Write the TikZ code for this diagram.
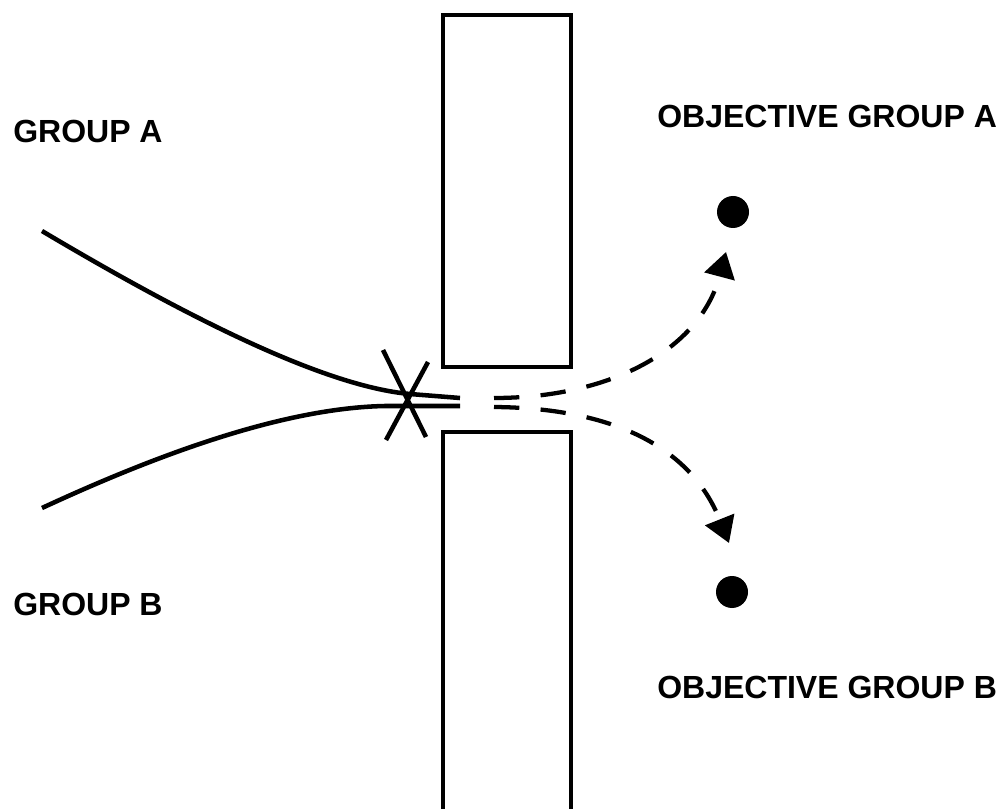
\documentclass[tikz,border=0pt]{standalone}
\usepackage{fontspec}
\setmainfont{Liberation Sans}
\usetikzlibrary{arrows.meta}
\begin{document}
\begin{tikzpicture}[x=0.75pt,y=-0.75pt,
  lbl/.style={anchor=base west,inner sep=0pt,font=\fontsize{24pt}{28pt}\selectfont\bfseries},
  wall/.style={line width=3.6pt,line join=miter},
  route/.style={line width=3.4pt},
  branch/.style={line width=3.2pt,dash pattern=on 19pt off 16pt,-{Triangle[length=19pt,width=23pt]}},
  obj/.style={circle,fill=black,inner sep=0pt,minimum size=24pt}]
\useasboundingbox (0,0) rectangle (1004,809);
% walls
\draw[wall] (443,367) -- (443,15) -- (571,15) -- (571,367) -- cycle;
\draw[wall] (443,815) -- (443,432) -- (571,432) -- (571,815);
% labels
\node[lbl] (ga) at (13,143) {GROUP A};
\node[lbl] (gb) at (13,615) {GROUP B};
\node[lbl] (oga) at (657,128) {OBJECTIVE GROUP A};
\node[lbl] (ogb) at (657,698) {OBJECTIVE GROUP B};
% objectives
\node[obj] (dotA) at (733,212) {};
\node[obj] (dotB) at (732,592) {};
% routes
\coordinate (sA) at (42,231);
\coordinate (sB) at (42,508);
\coordinate (eA) at (460,398);
\coordinate (eB) at (460,406);
\draw[route] (sA) .. controls (175,310) and (320,386) .. (410,394) -- (eA);
\draw[route] (sB) .. controls (150,458) and (280,408) .. (385,406) -- (eB);
% crossing star
\coordinate (x1) at (383,350);
\coordinate (x2) at (426,437);
\coordinate (x3) at (428,362);
\coordinate (x4) at (386,440);
\draw[route] (x1) -- (x2);
\draw[route] (x3) -- (x4);
% dashed branches
\coordinate (bA) at (494,398);
\coordinate (bB) at (494,407);
\coordinate (tA) at (726,252);
\coordinate (tB) at (729,543);
\draw[branch] (bA) .. controls (610,398) and (700,350) .. (tA);
\draw[branch] (bB) .. controls (610,408) and (690,445) .. (tB);
\end{tikzpicture}
\end{document}
